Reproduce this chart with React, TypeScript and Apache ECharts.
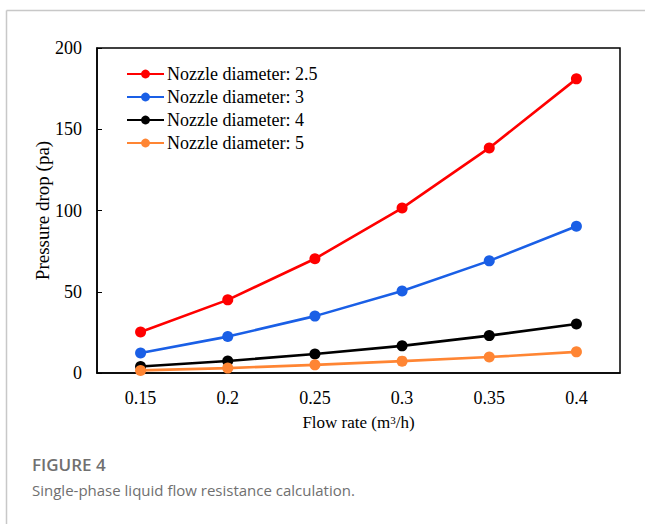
import React, { useEffect, useRef } from "react";
import * as echarts from "echarts";

const categories = ["0.15", "0.2", "0.25", "0.3", "0.35", "0.4"];
const d25 = [25.2, 45, 70.3, 101.5, 138.5, 181];
const d3 = [12.3, 22.4, 35, 50.5, 69, 90.3];
const d4 = [4, 7.4, 11.7, 16.7, 23, 30.2];
const d5 = [1.6, 3, 5, 7.3, 9.8, 13];
const yTicks = { min: 0, max: 200, interval: 50 };

const SERIF = "'Liberation Serif', 'Times New Roman', serif";

export default function App() {
  const ref = useRef<HTMLDivElement>(null);
  useEffect(() => {
    const chart = echarts.init(ref.current!, null, { renderer: "svg" });
    const mk = (name: string, data: number[], color: string) => ({
      name,
      type: "line",
      data,
      symbol: "circle",
      symbolSize: 11,
      lineStyle: { color, width: 2.6 },
      itemStyle: { color },
    });
    chart.setOption({
      animation: false,
      backgroundColor: "#fff",
      grid: {
        left: 97,
        right: 25,
        top: 48,
        bottom: 151,
        show: true,
        borderColor: "#000",
        borderWidth: 1.5,
        backgroundColor: "transparent",
      },
      legend: {
        orient: "vertical",
        left: 121,
        top: 60,
        itemWidth: 37,
        itemHeight: 11,
        itemGap: 5,
        textStyle: { fontFamily: SERIF, fontSize: 18, color: "#000", padding: [0, 0, 0, -2] },
        data: [
          "Nozzle diameter: 2.5",
          "Nozzle diameter: 3",
          "Nozzle diameter: 4",
          "Nozzle diameter: 5",
        ],
      },
      xAxis: {
        type: "category",
        data: categories,
        boundaryGap: true,
        name: "Flow rate (m{sup|3}/h)",
        nameLocation: "middle",
        nameGap: 41,
        nameMoveOverlap: false,
        nameTextStyle: {
          fontFamily: SERIF,
          fontSize: 17,
          color: "#000",
          rich: { sup: { fontFamily: SERIF, fontSize: 11, verticalAlign: "top", padding: [0, 0, 6, 0], color: "#000" } },
        },
        axisLine: { lineStyle: { color: "#000", width: 1.5 } },
        axisTick: { inside: true, length: 5, lineStyle: { color: "#000" } },
        axisLabel: { fontFamily: SERIF, fontSize: 18, color: "#000", margin: 16 },
        splitLine: { show: false },
      },
      yAxis: {
        type: "value",
        min: yTicks.min,
        max: yTicks.max,
        interval: yTicks.interval,
        name: "Pressure drop (pa)",
        nameLocation: "middle",
        nameGap: 45,
        nameMoveOverlap: false,
        nameTextStyle: { fontFamily: SERIF, fontSize: 19, color: "#000" },
        axisLine: { show: true, lineStyle: { color: "#000", width: 1.5 } },
        axisTick: { show: true, inside: true, length: 5, lineStyle: { color: "#000" } },
        axisLabel: { fontFamily: SERIF, fontSize: 18, color: "#000", margin: 15 },
        splitLine: { show: false },
      },
      graphic: [
        { type: "line", shape: { x1: 6.5, y1: 10.5, x2: 645, y2: 10.5 }, style: { stroke: "#c8c8c8", lineWidth: 1.5 } },
        { type: "line", shape: { x1: 6.5, y1: 10.5, x2: 6.5, y2: 524 }, style: { stroke: "#c8c8c8", lineWidth: 1.5 } },
        {
          type: "text",
          left: 32,
          top: 456,
          style: { text: "FIGURE 4", fontFamily: "'Open Sans', sans-serif", fontSize: 17, fontWeight: 600, fill: "#707070" },
        },
        {
          type: "text",
          left: 32,
          top: 482,
          style: {
            text: "Single-phase liquid flow resistance calculation.",
            fontFamily: "'Open Sans', sans-serif",
            fontSize: 15,
            fill: "#707070",
          },
        },
      ],
      series: [
        mk("Nozzle diameter: 2.5", d25, "#ff0000"),
        mk("Nozzle diameter: 3", d3, "#1a5fe6"),
        mk("Nozzle diameter: 4", d4, "#000000"),
        mk("Nozzle diameter: 5", d5, "#ff8533"),
      ],
    });
    return () => chart.dispose();
  }, []);
  return <div ref={ref} style={{ width: 645, height: 524, position: "absolute", left: 0, top: 0 }} />;
}
